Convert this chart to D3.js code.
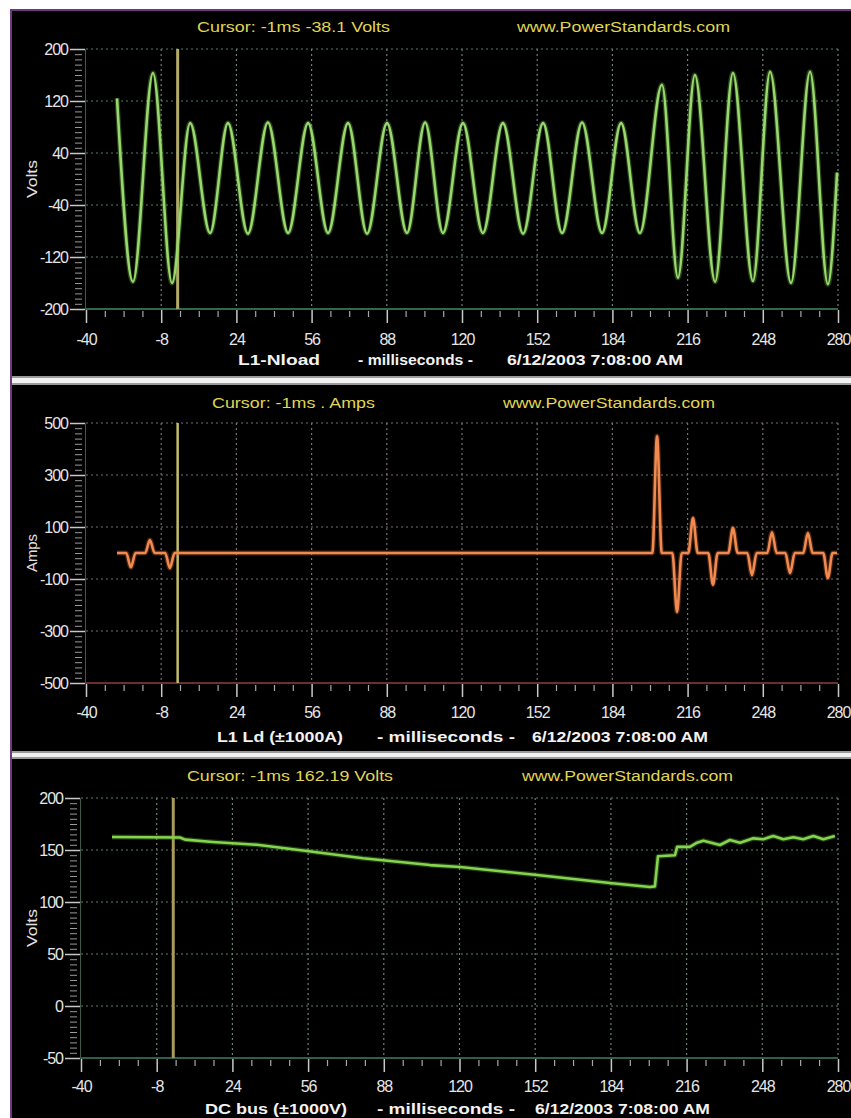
<!DOCTYPE html>
<html><head><meta charset="utf-8">
<script src="https://cdn.jsdelivr.net/npm/d3@7"></script>
<style>
html,body{margin:0;padding:0;background:#fff;}
svg{display:block;}
</style></head>
<body>
<svg id="c" width="851" height="1118"></svg>
<script>
// ---------- data ----------
const timeTicks = [-40, -8, 24, 56, 88, 120, 152, 184, 216, 248, 280];
const voltTicks = [200, 120, 40, -40, -120, -200];
const ampTicks = [500, 300, 100, -100, -300, -500];
const dcTicks = [200, 150, 100, 50, 0, -50];
const cursorTitles = ["Cursor: -1ms -38.1 Volts", "Cursor: -1ms . Amps", "Cursor: -1ms 162.19 Volts"];
const siteLabel = "www.PowerStandards.com";
const channelLabels = ["L1-Nload", "L1 Ld (\u00b11000A)", "DC bus (\u00b11000V)"];
const unitLabels = ["Volts", "Amps", "Volts"];
const timeUnitLabel = "- milliseconds -";
const timestamp = "6/12/2003 7:08:00 AM";
const cursorTime = -1;

// L1-N load voltage (waveform extrema, ms / V)
const voltageT = [-26.8, -20.0, -11.5, -3.4, 4.3, 12.8, 20.4, 28.9, 37.4, 46.0, 54.5, 63.0, 71.5, 79.6,
  88.1, 96.6, 104.3, 111.9, 120.4, 128.9, 137.4, 146.0, 154.5, 162.6, 171.1, 179.6, 187.7, 195.7,
  205.1, 211.9, 219.1, 227.7, 235.3, 243.8, 251.1, 260.0, 268.1, 275.7, 279.6];
const voltageV = [124, -158, 163, -160, 86, -83, 86, -84, 87, -83, 86, -83, 86, -84,
  86, -83, 87, -83, 86, -83, 86, -84, 86, -83, 87, -83, 86, -83,
  145, -152, 160, -158, 163, -157, 165, -160, 165, -162, 10];

// L1 load current (ms / A)
const currentT = [-26.8, -22.9, -20.9, -18.9, -14.8, -12.8, -10.8, -6.3, -4.3, -2.3,
  201.0, 203.0, 205.0, 209.5, 211.5, 213.5, 216.3, 218.3, 220.3, 224.8, 226.8, 228.8,
  233.3, 235.3, 237.3, 241.4, 243.4, 245.4, 249.9, 251.9, 253.9, 257.6, 259.6, 261.6,
  265.2, 267.2, 269.2, 273.7, 275.7, 277.7, 279.6];
const currentA = [0, 0, -55, 0, 0, 50, 0, 0, -58, 0,
  0, 450, 0, 0, -227, 0, 0, 135, 0, 0, -122, 0,
  0, 96, 0, 0, -85, 0, 0, 80, 0, 0, -77, 0,
  0, 77, 0, 0, -96, 0, 0];

// DC bus voltage (ms / V)
const dcT = [-26.9, 1.8, 4.0, 15.8, 34.4, 55.5, 79.2, 107.5, 120.2, 152.8, 184.5, 200.5, 202.6, 203.9,
  211.1, 212.0, 217.4, 220.4, 223.1, 230.1, 234.3, 238.6, 244.2, 248.4, 252.6, 256.9, 261.1,
  265.3, 269.6, 273.8, 278.7];
const dcV = [162.5, 162, 160, 157.7, 155, 149, 142, 135.5, 133.6, 126, 118, 114.5, 115, 144,
  145, 153, 153, 157, 159, 154.8, 159.6, 157, 161.2, 160.3, 163.5, 160.3, 162.2,
  160.3, 163.5, 160.3, 163.5];

// ---------- layout ----------
const svg = d3.select("#c");
const W = 851, H = 1118;
svg.append("rect").attr("width", W).attr("height", H).attr("fill", "#fff");

const panels = [
  { top: 11, bottom: 376, x0: 86, x1: 838, yTop: 49, yBot: 309, domain: [-200, 200], ticks: voltTicks, minorStep: 8,
    t: voltageT, v: voltageV, curve: d3.curveMonotoneX, color: "#98d86c", glow: "#6fb84a",
    grid: "#6f7f72", hgrid: "#4f7f6a", axisColor: "#2f6a4a", cursorColor: "#b3aa6a", cursorW: 3,
    titleY: 32, titleX: [197, 390], siteX: [517, 730], labelOff: 36, axisTitleY: 365,
    chX: [238, 320], msX: [358, 473], dateX: [507, 683] },
  { top: 385, bottom: 751, x0: 86, x1: 838, yTop: 423, yBot: 683, domain: [-500, 500], ticks: ampTicks, minorStep: 20,
    t: currentT, v: currentA, curve: d3.curveMonotoneX, color: "#f08a50", glow: "#c86030",
    grid: "#7a6f72", hgrid: "#7a6f72", axisColor: "#6a3030", cursorColor: "#c2bb6c", cursorW: 2.5,
    titleY: 408, titleX: [212, 375], siteX: [503, 715], labelOff: 35, axisTitleY: 742,
    chX: [217, 343], msX: [377, 515], dateX: [532, 708] },
  { top: 759, bottom: 1118, x0: 81, x1: 838, yTop: 798, yBot: 1058, domain: [-50, 200], ticks: dcTicks, minorStep: 5,
    t: dcT, v: dcV, curve: d3.curveLinear, color: "#86d44e", glow: "#5aa83a",
    grid: "#6f7f72", hgrid: "#5f7f6a", axisColor: "#2f5e4e", cursorColor: "#a89a5a", cursorW: 3,
    titleY: 781, titleX: [187, 393], siteX: [522, 733], labelOff: 34, axisTitleY: 1114,
    chX: [205, 347], msX: [377, 515], dateX: [535, 710] }
];

// frame
svg.append("rect").attr("x", 10).attr("y", 9).attr("width", W - 10).attr("height", H - 9).attr("fill", "#6d3a80");

const plainFmt = d => String(d);

panels.forEach((p, i) => {
  const g = svg.append("g");
  g.append("rect").attr("x", 12).attr("y", p.top).attr("width", W - 12).attr("height", p.bottom - p.top).attr("fill", "#000");

  const x = d3.scaleLinear().domain([-40, 280]).range([p.x0, p.x1]);
  const y = d3.scaleLinear().domain(p.domain).range([p.yBot, p.yTop]);

  // grid
  const grid = g.append("g");
  grid.selectAll("line.v").data(timeTicks.slice(1)).join("line")
    .attr("x1", d => x(d)).attr("x2", d => x(d)).attr("y1", p.yTop).attr("y2", p.yBot)
    .attr("stroke", p.grid).attr("stroke-width", 1.2).attr("stroke-dasharray", "2,3");
  grid.selectAll("line.h").data(p.ticks.slice(0, -1)).join("line")
    .attr("x1", p.x0).attr("x2", p.x1).attr("y1", d => y(d)).attr("y2", d => y(d))
    .attr("stroke", p.hgrid).attr("stroke-width", 1.2).attr("stroke-dasharray", "2,3");

  // x axis (major + minor)
  const xMinor = d3.range(-40, 281, 8).filter(d => !timeTicks.includes(d));
  const xa = g.append("g").attr("transform", `translate(0,${p.yBot + 1})`)
    .call(d3.axisBottom(x).tickValues(timeTicks).tickSize(13).tickFormat(plainFmt));
  xa.select(".domain").remove();
  xa.selectAll("line").attr("stroke", "#c8c8c8").attr("stroke-width", 1.5);
  xa.selectAll("text").attr("y", p.labelOff - 1).attr("dy", 0)
    .attr("fill", "#e6e6e6").attr("font-family", "Liberation Sans, Arial, sans-serif")
    .attr("font-size", 16).attr("letter-spacing", -1);
  const xm = g.append("g").attr("transform", `translate(0,${p.yBot + 2})`)
    .call(d3.axisBottom(x).tickValues(xMinor).tickSize(6).tickFormat(""));
  xm.select(".domain").remove();
  xm.selectAll("line").attr("stroke", "#a8a8a8").attr("stroke-width", 1.2);

  // y axis (major + minor)
  const [lo, hi] = p.domain;
  const yMinor = d3.range(lo, hi + 0.001, p.minorStep).filter(d => !p.ticks.includes(d));
  const ya = g.append("g").attr("transform", `translate(${p.x0 - 1},0)`)
    .call(d3.axisLeft(y).tickValues(p.ticks).tickSize(15).tickPadding(2).tickFormat(plainFmt));
  ya.select(".domain").attr("stroke", "#3d5a4d").attr("stroke-width", 1);
  ya.selectAll("line").attr("stroke", "#c8c8c8").attr("stroke-width", 1.5);
  ya.selectAll("text").attr("fill", "#e6e6e6").attr("font-family", "Liberation Sans, Arial, sans-serif")
    .attr("font-size", 16).attr("letter-spacing", -1);
  const ym = g.append("g").attr("transform", `translate(${p.x0 - 4},0)`)
    .call(d3.axisLeft(y).tickValues(yMinor).tickSize(7).tickFormat(""));
  ym.select(".domain").remove();
  ym.selectAll("line").attr("stroke", "#9a9a9a").attr("stroke-width", 1);

  // bottom axis line
  g.append("line").attr("x1", x(-40)).attr("x2", x(280)).attr("y1", y(lo)).attr("y2", y(lo))
    .attr("stroke", p.axisColor).attr("stroke-width", 2);

  // cursor
  g.append("line").attr("x1", x(cursorTime)).attr("x2", x(cursorTime)).attr("y1", p.yTop).attr("y2", p.yBot)
    .attr("stroke", p.cursorColor).attr("stroke-width", p.cursorW);

  // series
  const pts = p.t.map((t, k) => [t, p.v[k]]);
  const line = d3.line().x(d => x(d[0])).y(d => y(d[1])).curve(p.curve);
  g.append("path").datum(pts).attr("d", line).attr("fill", "none")
    .attr("stroke", p.glow).attr("stroke-width", 5).attr("stroke-opacity", 0.35).attr("stroke-linejoin", "round");
  g.append("path").datum(pts).attr("d", line).attr("fill", "none")
    .attr("stroke", p.color).attr("stroke-width", 2.6).attr("stroke-linejoin", "round");

  // titles
  const tfont = "Liberation Sans, Arial, sans-serif";
  const fitText = (txt, xr, yb, opts) => g.append("text").text(txt)
    .attr("x", xr[0]).attr("y", yb).attr("textLength", xr[1] - xr[0]).attr("lengthAdjust", "spacingAndGlyphs")
    .attr("font-family", tfont).attr("font-size", opts.size).attr("font-weight", opts.weight || "normal")
    .attr("fill", opts.fill);
  fitText(cursorTitles[i], p.titleX, p.titleY, { size: 14, fill: "#e0d654" });
  fitText(siteLabel, p.siteX, p.titleY, { size: 14, fill: "#e0d654" });
  fitText(channelLabels[i], p.chX, p.axisTitleY, { size: 15, weight: "bold", fill: "#f2f2f2" });
  fitText(timeUnitLabel, p.msX, p.axisTitleY, { size: 15, weight: "bold", fill: "#f2f2f2" });
  fitText(timestamp, p.dateX, p.axisTitleY, { size: 15, weight: "bold", fill: "#f2f2f2" });

  // y unit label
  const cy = (p.yTop + p.yBot) / 2;
  g.append("text").text(unitLabels[i])
    .attr("transform", `translate(37,${cy}) rotate(-90)`).attr("text-anchor", "middle")
    .attr("textLength", 38).attr("lengthAdjust", "spacingAndGlyphs")
    .attr("font-family", tfont).attr("font-size", 15).attr("fill", "#e2e2e2");
});

// separators between panels
[[376, 385], [751, 759]].forEach(([a, b]) => {
  svg.append("rect").attr("x", 0).attr("y", a).attr("width", W).attr("height", b - a).attr("fill", "#9a9a9a");
  svg.append("rect").attr("x", 0).attr("y", a + 2).attr("width", W).attr("height", b - a - 4).attr("fill", "#f2f2f2");
});
// left white margin & purple edge over separators
svg.append("rect").attr("x", 0).attr("y", 0).attr("width", 10).attr("height", H).attr("fill", "#fff");
svg.append("rect").attr("x", 0).attr("y", 0).attr("width", W).attr("height", 9).attr("fill", "#fff");
svg.append("rect").attr("x", 10).attr("y", 9).attr("width", 2).attr("height", H - 9).attr("fill", "#6d3a80");
svg.append("rect").attr("x", 10).attr("y", 9).attr("width", W - 10).attr("height", 2).attr("fill", "#6d3a80");
</script>
</body></html>
